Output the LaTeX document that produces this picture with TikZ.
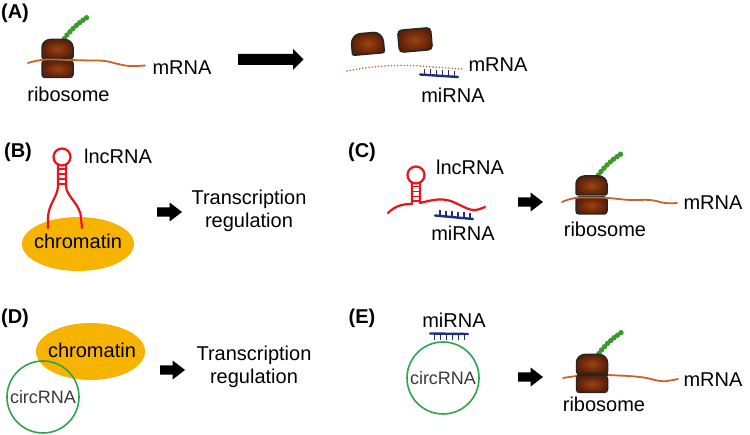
\documentclass[tikz,border=0pt]{standalone}
\usepackage{fontspec}
\setmainfont{Liberation Sans}
\definecolor{mrna}{HTML}{C8642A}
\definecolor{lnc}{HTML}{E8141C}
\definecolor{mir}{HTML}{1F2E78}
\definecolor{chrom}{HTML}{F6B400}
\definecolor{circ}{HTML}{2DA44E}
\definecolor{bead}{HTML}{3C9A2C}
\definecolor{riboA}{HTML}{9A4312}
\definecolor{riboB}{HTML}{5C1F06}
\definecolor{riboline}{HTML}{262626}
\definecolor{circtext}{HTML}{3A3A3A}
\tikzset{
  lbl/.style={font=\fontsize{20}{22.5}\selectfont, inner sep=0pt},
  panel/.style={font=\bfseries\fontsize{20}{22}\selectfont, inner sep=0pt},
  riboshape/.style={draw=riboline, line width=1.5pt, inner color=riboA, outer color=riboB},
  mrnaline/.style={draw=mrna, line width=1.8pt, line cap=round},
  lncline/.style={draw=lnc, line width=2.2pt, line cap=round, line join=round},
  lncrung/.style={draw=lnc, line width=1.7pt},
  mirbar/.style={draw=mir, line width=2.4pt, line cap=round},
  mirtooth/.style={draw=mir, line width=1.8pt},
  circring/.style={circle, draw=circ, line width=1.6pt, minimum size=72pt, inner sep=0pt},
  chromell/.style={ellipse, fill=chrom, inner sep=0pt},
  blockfill/.style={fill=black},
  ribosome/.pic={
    \foreach \bx/\by in {7/-21, 9.5/-24.5, 12.5/-27.8, 15.5/-31, 18.8/-34, 22/-36.8, 25.5/-39.3, 29/-41.8}
      \fill[bead] (\bx,\by) circle (2.7);
    \path[riboshape, rounded corners=2pt] (-15.5,-1) -- (-15.5,-10)
      .. controls (-15.5,-17) and (-11,-20) .. (-5,-20) -- (5,-20)
      .. controls (11,-20) and (15.5,-17) .. (15.5,-10) -- (15.5,-1) -- cycle;
    \path[riboshape, rounded corners=3pt] (-15.5,1) rectangle (15.5,18);
  },
  smallarrow/.pic={
    \fill[blockfill] (0,-4.6) -- (12.5,-4.6) -- (12.5,-9.6) -- (25,0) -- (12.5,9.6) -- (12.5,4.6) -- (0,4.6) -- cycle;
  },
}
\usetikzlibrary{shapes.geometric}
\begin{document}
\begin{tikzpicture}[x=1pt,y=-1pt]
\useasboundingbox (0,0) rectangle (750,435);
\fill[white] (0,0) rectangle (750,435);

% ---------------- Panel A ----------------
\node[panel] (labA) at (15,13) {(A)};
\pic (ribA) at (57.5,59.5) {ribosome};
\draw[mrnaline] plot[smooth, tension=0.7] coordinates {(28,63) (38,60.5) (50,59.5) (70,60) (90,60.5) (105,61) (118,64) (130,66) (145,65.5)};
\node[lbl] (mrnaA) at (182,68) {mRNA};
\node[lbl] (riboAtxt) at (68.5,94) {ribosome};
% big arrow
\fill[blockfill] (238,54) -- (293,54) -- (293,49) -- (303.5,59.5) -- (293,70) -- (293,65) -- (238,65) -- cycle;
% broken ribosome
\begin{scope}[shift={(368.5,54)}, rotate=5]
  \path[riboshape, rounded corners=2pt] (-16,0) -- (-16,-9)
    .. controls (-16,-17) and (-11,-21) .. (-5,-21) -- (5,-21)
    .. controls (11,-21) and (16,-17) .. (16,-9) -- (16,0) -- cycle;
\end{scope}
\begin{scope}[shift={(415,40)}, rotate=5]
  \path[riboshape, rounded corners=4pt] (-16.5,-11) rectangle (16.5,11);
\end{scope}
\draw[mrna, line width=1.7pt, dash pattern=on 0pt off 3.2pt, line cap=round] plot[smooth, tension=0.7] coordinates {(347,71) (365,68) (385,66) (410,65.5) (440,67.5) (463,69)};
\draw[mirbar] (420,74.5) -- (458,77);
\foreach \t in {0,...,5} \draw[mirtooth] ({424.5+6*\t},{74.8+0.4*\t}) -- ++(0,-6);
\node[lbl] (mrnaA2) at (498,65) {mRNA};
\node[lbl] (mirA) at (453,95) {miRNA};

% ---------------- Panel B ----------------
\node[panel] (labB) at (18,152) {(B)};
\node[chromell, minimum width=112pt, minimum height=54pt] (chromB) at (78,244) {};
\node[lbl] (chromBtxt) at (78,241) {chromatin};
\draw[lncline] (62,157) circle (8.5);
\draw[lncline] (58,164.5) -- (58,186) .. controls (58,196) and (48,205) .. (48,218) -- (48,228);
\draw[lncline] (66,164.5) -- (66,186) .. controls (66,196) and (81,205) .. (81,218) -- (82,228);
\foreach \ry in {169,174,179,184} \draw[lncrung] (58,\ry) -- (66,\ry);
\node[lbl] (lncB) at (118,156) {lncRNA};
\pic at (157,212) {smallarrow};
\node[lbl, align=center] (trB) at (249,211) {Transcription\\regulation};

% ---------------- Panel C ----------------
\node[panel] (labC) at (362,152) {(C)};
\draw[lncline] (416,175) circle (8.5);
\draw[lncline] (388,213) .. controls (396,205) and (404,204) .. (412,204) -- (412,182.5);
\draw[lncline] (420,182.5) -- (420,203) .. controls (428,201) and (436,199) .. (443,199.5)
  .. controls (455,200) and (465,210) .. (474,210) .. controls (479,210) and (482,208) .. (485,207);
\foreach \ry in {186.5,191.5,196.5,201} \draw[lncrung] (412,\ry) -- (420,\ry);
\draw[mirbar] (435,215.5) -- (473,219);
\foreach \t in {0,...,5} \draw[mirtooth] ({440+6*\t},{216+0.55*\t}) -- ++(0,-6);
\node[lbl] (lncC) at (470,167) {lncRNA};
\node[lbl] (mirC) at (463,233) {miRNA};
\pic at (518,202) {smallarrow};
\pic (ribC) at (591.5,196) {ribosome};
\draw[mrnaline] plot[smooth, tension=0.7] coordinates {(562,202) (575,198) (592,197.5) (608,198) (630,200) (650,200) (665,203) (677,203)};
\node[lbl] (mrnaC) at (713,203) {mRNA};
\node[lbl] (riboCtxt) at (605,229) {ribosome};

% ---------------- Panel D ----------------
\node[panel] (labD) at (15,318) {(D)};
\node[chromell, minimum width=109pt, minimum height=57pt] (chromD) at (90.5,351.5) {};
\node[lbl] (chromDtxt) at (92,350) {chromatin};
\node[circring, font=\fontsize{18}{20}\selectfont, text=circtext] (circD) at (43,397) {circRNA};
\pic at (160,370) {smallarrow};
\node[lbl, align=center] (trD) at (254,367) {Transcription\\regulation};

% ---------------- Panel E ----------------
\node[panel] (labE) at (362,318) {(E)};
\node[lbl] (mirE) at (454,320) {miRNA};
\node[circring, font=\fontsize{18}{20}\selectfont, text=circtext] (circE) at (443,378) {circRNA};
\draw[mirbar] (430,333.5) -- (468,334);
\foreach \t in {0,...,5} \draw[mirtooth] ({434.5+6*\t},333.5) -- ++(0,7);
\pic at (518,377) {smallarrow};
\draw[mrnaline] plot[smooth, tension=0.7] coordinates {(563,378) (577,376) (592,375) (607,375) (640,377) (660,381) (670,380.5) (678,379)};
\pic (ribE) at (592,374.5) {ribosome};
\draw[riboline, line width=3pt] (576.5,374.5) -- (607.5,374.5);
\node[lbl] (mrnaE) at (713,380) {mRNA};
\node[lbl] (riboEtxt) at (604,404) {ribosome};
\end{tikzpicture}
\end{document}
